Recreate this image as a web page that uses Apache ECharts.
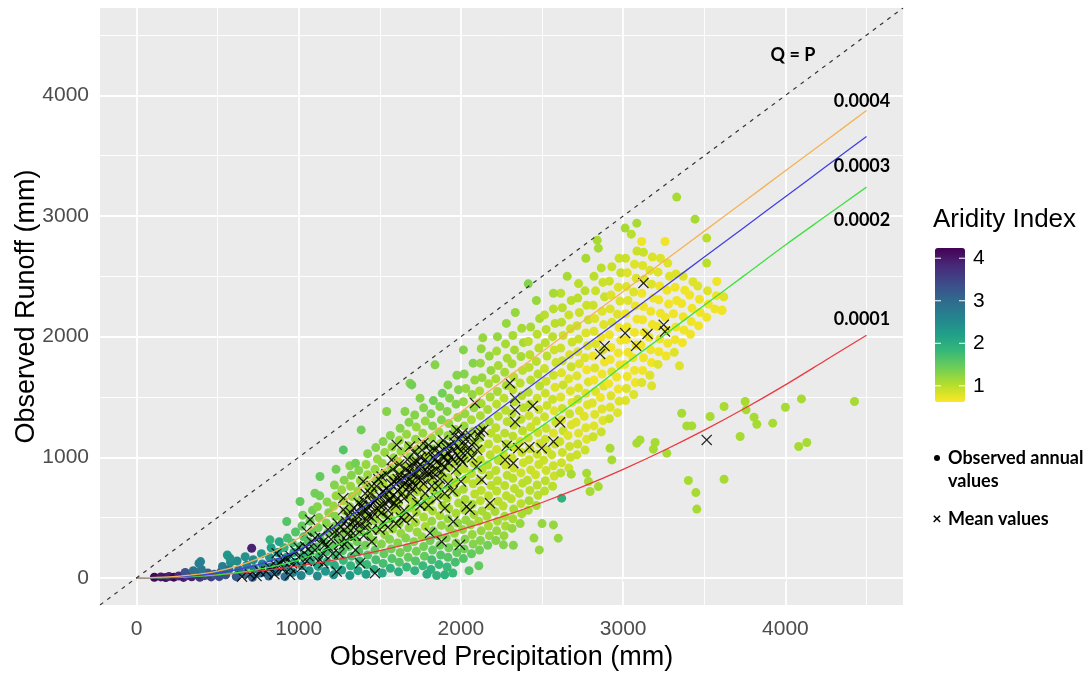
<!DOCTYPE html>
<html><head><meta charset="utf-8">
<script src="https://cdn.jsdelivr.net/npm/echarts@6/dist/echarts.min.js"></script>
<style>html,body{margin:0;padding:0;background:#fff}#c{width:1092px;height:673px}</style>
</head><body><div id="c"></div>
<script>
// ---------- data ----------
const xTicks = [0, 1000, 2000, 3000, 4000];
const yTicks = [0, 1000, 2000, 3000, 4000];
const minorTicks = [500, 1500, 2500, 3500, 4500];
const axisMin = -225, axisMax = 4725;
const legendTicks = [1, 2, 3, 4];
const aiMin = 0.62, aiMax = 4.24;

const curveP = [0,250,500,750,1000,1250,1500,1750,2000,2250,2500,2750,3000,3250,3500,3750,4000,4250,4500];
const curve0001 = [0,6,25,56,100,156,225,306,400,506,625,756,900,1056,1225,1406,1600,1806,2012];
const curve0002 = [0,5,25,70,150,280,430,620,830,1030,1260,1500,1760,2010,2260,2510,2760,3000,3240];
const curve0003 = [0,8,40,110,230,450,680,915,1160,1410,1660,1910,2160,2410,2660,2910,3160,3410,3660];
const curve0004 = [0,12,55,160,330,600,870,1125,1375,1625,1875,2125,2375,2625,2875,3125,3375,3625,3875];
const curveNames = ['0.0001','0.0002','0.0003','0.0004'];

// observed annual values: [P, Q, aridity index]
const annual = [
[110,5,4.2],[150,8,4.0],[180,3,4.1],[200,12,3.9],[230,6,4.2],[260,15,3.8],[290,4,4.0],[310,20,3.6],[340,9,3.9],[370,28,3.4],[390,5,3.7],[420,18,3.5],[440,40,3.1],[460,8,3.6],[480,30,3.2],[300,45,3.3],[350,60,2.9],[400,70,2.8],[395,135,2.6],[385,120,2.7],[710,246,3.9],[510,10,3.4],[520,50,3.0],[530,95,2.7],[550,25,3.3],[570,70,2.9],[580,130,2.5],[560,190,2.3],
[615,10,3.2],[630,70,2.9],[620,140,2.5],[665,35,3.0],[680,105,2.7],[670,175,2.4],
[715,5,3.1],[725,75,2.8],[720,150,2.5],[765,40,3.0],[775,115,2.6],[770,200,2.3],
[815,15,3.0],[825,90,2.7],[820,170,2.4],[830,250,2.2],[865,50,2.8],[875,130,2.5],[870,210,2.3],[880,300,2.1],
[915,10,2.9],[920,90,2.5],[925,170,2.2],[910,250,1.9],[930,330,1.7],[965,45,2.6],[975,130,2.3],[970,210,2.0],[960,290,1.7],[980,380,1.6],
[1015,20,2.6],[1020,100,2.2],[1025,180,1.9],[1010,260,1.7],[1030,340,1.6],[1020,430,1.5],[1025,520,1.4],[1065,60,2.4],[1075,140,2.0],[1070,220,1.7],[1060,300,1.6],[1080,380,1.5],[1070,470,1.4],[1085,560,1.4],
[1115,15,2.5],[1120,95,2.1],[1125,175,1.8],[1110,255,1.6],[1130,335,1.5],[1120,415,1.4],[1125,500,1.3],[1115,590,1.3],[1130,680,1.4],[1165,55,2.3],[1175,135,1.9],[1170,215,1.7],[1160,295,1.5],[1180,375,1.4],[1170,455,1.3],[1185,540,1.3],[1175,630,1.3],
[1215,25,2.4],[1220,105,2.0],[1225,185,1.7],[1210,265,1.5],[1230,345,1.4],[1220,425,1.3],[1225,510,1.3],[1215,595,1.2],[1230,680,1.2],[1220,770,1.3],[1265,65,2.2],[1275,145,1.8],[1270,225,1.6],[1260,305,1.4],[1280,385,1.3],[1270,470,1.3],[1285,555,1.2],[1275,640,1.2],[1265,730,1.2],[1280,810,1.3],
[1315,20,2.3],[1320,100,1.9],[1325,180,1.7],[1310,260,1.5],[1330,340,1.3],[1320,420,1.3],[1325,505,1.2],[1315,590,1.2],[1330,675,1.2],[1320,760,1.2],[1325,850,1.3],[1315,930,1.3],[1365,60,2.1],[1375,140,1.8],[1370,220,1.6],[1360,300,1.4],[1380,385,1.3],[1370,465,1.2],[1385,550,1.2],[1375,635,1.2],[1365,720,1.2],[1380,805,1.2],[1370,890,1.3],
[1415,30,2.2],[1420,110,1.8],[1425,190,1.6],[1410,270,1.4],[1430,350,1.3],[1420,430,1.2],[1425,515,1.2],[1415,600,1.2],[1430,685,1.1],[1420,770,1.2],[1425,855,1.2],[1415,940,1.2],[1425,1030,1.3],[1465,70,2.0],[1475,150,1.7],[1470,230,1.5],[1460,310,1.3],[1480,395,1.2],[1470,475,1.2],[1485,560,1.1],[1475,645,1.1],[1465,730,1.1],[1480,815,1.2],[1470,900,1.2],[1485,985,1.2],[1475,1080,1.3],
[1515,40,2.1],[1520,120,1.7],[1525,200,1.5],[1510,280,1.3],[1530,360,1.2],[1520,440,1.2],[1525,525,1.2],[1515,610,1.1],[1530,695,1.1],[1520,780,1.1],[1525,865,1.2],[1515,950,1.2],[1530,1040,1.2],[1520,1130,1.3],[1565,80,1.9],[1575,160,1.6],[1570,240,1.4],[1560,320,1.3],[1580,405,1.2],[1570,485,1.2],[1585,570,1.1],[1575,655,1.1],[1565,740,1.1],[1580,825,1.1],[1570,910,1.2],[1585,995,1.2],[1575,1085,1.2],[1565,1180,1.3],
[1615,50,2.0],[1620,130,1.6],[1625,210,1.4],[1610,290,1.3],[1630,370,1.2],[1620,450,1.2],[1625,535,1.1],[1615,620,1.1],[1630,705,1.1],[1620,790,1.1],[1625,875,1.1],[1615,960,1.1],[1630,1050,1.2],[1620,1140,1.2],[1625,1240,1.3],[1665,90,1.8],[1675,170,1.5],[1670,250,1.4],[1660,330,1.3],[1680,415,1.2],[1670,495,1.1],[1685,580,1.1],[1675,665,1.1],[1665,750,1.1],[1680,835,1.1],[1670,920,1.1],[1685,1005,1.2],[1675,1095,1.2],[1665,1190,1.2],[1680,1290,1.3],
[1715,60,1.9],[1720,140,1.6],[1725,220,1.4],[1710,300,1.3],[1730,380,1.2],[1720,460,1.1],[1725,545,1.1],[1715,630,1.1],[1730,715,1.1],[1720,800,1.1],[1725,885,1.1],[1715,970,1.1],[1730,1060,1.2],[1720,1150,1.2],[1725,1250,1.2],[1715,1350,1.3],[1765,100,1.8],[1775,180,1.5],[1770,260,1.4],[1760,340,1.2],[1780,425,1.1],[1770,505,1.1],[1785,590,1.1],[1775,675,1.1],[1765,760,1.0],[1780,845,1.1],[1770,930,1.1],[1785,1015,1.1],[1775,1105,1.2],[1765,1200,1.2],[1780,1300,1.2],[1770,1410,1.3],
[1815,70,1.9],[1820,150,1.7],[1825,230,1.5],[1810,310,1.4],[1830,390,1.3],[1820,470,1.2],[1825,555,1.1],[1815,640,1.1],[1830,725,1.1],[1820,810,1.1],[1825,895,1.1],[1815,980,1.2],[1830,1070,1.2],[1820,1160,1.2],[1825,1260,1.3],[1815,1360,1.3],[1830,1470,1.4],[1865,110,1.8],[1875,190,1.6],[1870,270,1.4],[1860,350,1.3],[1880,435,1.2],[1870,515,1.1],[1885,600,1.1],[1875,685,1.1],[1865,770,1.1],[1880,855,1.1],[1870,940,1.1],[1885,1025,1.2],[1875,1115,1.2],[1865,1210,1.2],[1880,1310,1.3],[1870,1420,1.3],[1885,1530,1.4],
[1915,90,1.8],[1920,170,1.6],[1925,250,1.4],[1910,330,1.3],[1930,410,1.2],[1920,490,1.2],[1925,575,1.1],[1915,660,1.1],[1930,745,1.1],[1920,830,1.1],[1925,915,1.1],[1915,1000,1.1],[1930,1090,1.2],[1920,1180,1.2],[1925,1280,1.2],[1915,1380,1.3],[1930,1490,1.3],[1920,1600,1.3],[1965,130,1.7],[1975,210,1.5],[1970,290,1.3],[1960,370,1.2],[1980,455,1.2],[1970,535,1.1],[1985,620,1.1],[1975,705,1.1],[1965,790,1.0],[1980,875,1.1],[1970,960,1.1],[1985,1045,1.1],[1975,1135,1.2],[1965,1230,1.2],[1980,1330,1.2],[1970,1440,1.3],[1985,1560,1.3],[1975,1680,1.3],
[2015,160,1.6],[2020,240,1.4],[2025,320,1.3],[2010,400,1.2],[2030,480,1.2],[2020,565,1.1],[2025,650,1.1],[2015,735,1.1],[2030,820,1.0],[2020,905,1.0],[2025,990,1.1],[2015,1080,1.1],[2030,1170,1.1],[2020,1260,1.2],[2025,1360,1.2],[2015,1460,1.2],[2030,1570,1.2],[2020,1690,1.3],[2065,200,1.5],[2075,280,1.3],[2070,360,1.2],[2060,440,1.2],[2080,525,1.1],[2070,610,1.1],[2085,695,1.0],[2075,780,1.0],[2065,865,1.0],[2080,950,1.0],[2070,1035,1.1],[2085,1125,1.1],[2075,1215,1.1],[2065,1310,1.1],[2080,1410,1.2],[2070,1520,1.2],[2085,1640,1.2],[2075,1780,1.3],
[2115,230,1.4],[2120,310,1.3],[2125,390,1.2],[2110,470,1.1],[2130,555,1.1],[2120,640,1.0],[2125,725,1.0],[2115,810,1.0],[2130,895,1.0],[2120,980,1.0],[2125,1070,1.0],[2115,1160,1.1],[2130,1250,1.1],[2120,1345,1.1],[2125,1445,1.1],[2115,1550,1.1],[2130,1660,1.2],[2120,1780,1.2],[2125,1900,1.2],[2165,270,1.4],[2175,350,1.2],[2170,430,1.1],[2160,510,1.1],[2180,595,1.0],[2170,680,1.0],[2185,765,1.0],[2175,850,1.0],[2165,935,1.0],[2180,1020,1.0],[2170,1110,1.0],[2185,1200,1.0],[2175,1295,1.1],[2165,1395,1.1],[2180,1500,1.1],[2170,1610,1.1],[2185,1720,1.2],[2175,1840,1.2],
[2215,310,1.3],[2220,390,1.2],[2225,470,1.1],[2210,550,1.1],[2230,635,1.0],[2220,720,1.0],[2225,805,1.0],[2215,890,1.0],[2230,975,1.0],[2220,1065,0.9],[2225,1155,1.0],[2215,1245,1.0],[2230,1340,1.0],[2220,1440,1.0],[2225,1545,1.1],[2215,1650,1.1],[2230,1760,1.1],[2220,1880,1.1],[2225,2000,1.2],[2265,350,1.2],[2275,430,1.1],[2270,510,1.1],[2260,595,1.0],[2280,680,1.0],[2270,765,1.0],[2285,850,1.0],[2275,935,0.9],[2265,1020,0.9],[2280,1110,1.0],[2270,1200,1.0],[2285,1295,1.0],[2275,1390,1.0],[2265,1490,1.0],[2280,1595,1.1],[2270,1705,1.1],[2285,1820,1.1],[2275,1940,1.1],
[2315,410,1.2],[2320,490,1.1],[2325,570,1.1],[2310,655,1.0],[2330,740,1.0],[2320,825,1.0],[2325,910,0.9],[2315,995,0.9],[2330,1085,0.9],[2320,1175,1.0],[2325,1265,1.0],[2315,1360,1.0],[2330,1460,1.0],[2320,1560,1.0],[2325,1665,1.0],[2315,1775,1.1],[2330,1890,1.1],[2320,2010,1.1],[2365,450,1.2],[2375,530,1.1],[2370,615,1.0],[2360,700,1.0],[2380,785,1.0],[2370,870,0.9],[2385,955,0.9],[2375,1040,0.9],[2365,1130,0.9],[2380,1220,1.0],[2370,1315,1.0],[2385,1410,1.0],[2375,1510,1.0],[2365,1615,1.0],[2380,1720,1.0],[2370,1835,1.1],[2385,1950,1.1],[2375,2070,1.1],
[2415,560,1.1],[2420,640,1.1],[2425,725,1.0],[2410,810,1.0],[2430,895,0.9],[2420,980,0.9],[2425,1070,0.9],[2415,1160,0.9],[2430,1250,0.9],[2420,1345,0.9],[2425,1440,1.0],[2415,1540,1.0],[2430,1640,1.0],[2420,1745,1.0],[2425,1850,1.0],[2415,1960,1.0],[2430,2080,1.1],[2465,600,1.1],[2475,685,1.0],[2470,770,1.0],[2460,855,0.9],[2480,940,0.9],[2470,1025,0.9],[2485,1115,0.9],[2475,1205,0.9],[2465,1300,0.9],[2480,1395,0.9],[2470,1490,0.9],[2485,1590,1.0],[2475,1690,1.0],[2465,1795,1.0],[2480,1905,1.0],[2470,2020,1.0],[2485,2150,1.1],
[2515,720,1.0],[2520,805,1.0],[2525,890,0.9],[2510,975,0.9],[2530,1060,0.9],[2520,1150,0.9],[2525,1240,0.9],[2515,1335,0.9],[2530,1430,0.9],[2520,1530,0.9],[2525,1630,0.9],[2515,1735,0.9],[2530,1840,1.0],[2520,1950,1.0],[2525,2060,1.0],[2515,2180,1.0],[2565,760,1.0],[2575,845,0.9],[2570,930,0.9],[2560,1020,0.9],[2580,1110,0.9],[2570,1200,0.8],[2585,1290,0.9],[2575,1385,0.8],[2565,1480,0.9],[2580,1580,0.8],[2570,1680,0.9],[2585,1785,0.9],[2575,1890,0.9],[2565,2000,1.0],[2580,2110,1.0],[2570,2230,1.0],
[2615,870,1.0],[2620,955,0.9],[2625,1040,0.9],[2610,1130,0.9],[2630,1220,0.9],[2620,1310,0.8],[2625,1405,0.9],[2615,1500,0.8],[2630,1600,0.9],[2620,1700,0.8],[2625,1800,0.9],[2615,1905,0.9],[2630,2010,0.9],[2620,2120,1.0],[2625,2240,1.0],[2615,2360,1.0],[2665,910,0.9],[2675,1000,0.9],[2670,1090,0.9],[2660,1180,0.8],[2680,1270,0.8],[2670,1360,0.9],[2685,1455,0.8],[2675,1550,0.8],[2665,1650,0.8],[2680,1750,0.9],[2670,1850,0.8],[2685,1955,0.9],[2675,2065,0.9],[2665,2180,0.9],[2680,2300,1.0],
[2715,1020,0.9],[2720,1110,0.9],[2725,1200,0.8],[2710,1290,0.8],[2730,1385,0.8],[2720,1480,0.9],[2725,1575,0.8],[2715,1675,0.8],[2730,1775,0.8],[2720,1875,0.8],[2725,1980,0.9],[2715,2090,0.9],[2730,2200,0.9],[2720,2320,1.0],[2725,2440,1.0],[2765,1060,0.9],[2775,1150,0.8],[2770,1245,0.8],[2760,1340,0.8],[2780,1435,0.8],[2770,1530,0.8],[2785,1625,0.8],[2775,1725,0.7],[2765,1825,0.8],[2780,1925,0.8],[2770,2030,0.8],[2785,2140,0.9],[2775,2260,0.9],[2765,2380,1.0],
[2815,1170,0.9],[2820,1260,0.8],[2825,1355,0.8],[2810,1450,0.8],[2830,1545,0.8],[2820,1640,0.7],[2825,1740,0.8],[2815,1840,0.7],[2830,1940,0.8],[2820,2045,0.8],[2825,2150,0.8],[2815,2260,0.9],[2830,2380,0.9],[2820,2500,1.0],[2865,1210,0.9],[2875,1305,0.8],[2870,1400,0.8],[2860,1495,0.7],[2880,1590,0.8],[2870,1690,0.7],[2885,1790,0.7],[2875,1890,0.8],[2865,1995,0.7],[2880,2100,0.8],[2870,2210,0.8],[2885,2330,0.9],[2875,2450,0.9],[2865,2570,1.0],
[2915,1320,0.9],[2920,1415,0.8],[2925,1510,0.8],[2910,1610,0.7],[2930,1710,0.8],[2920,1810,0.7],[2925,1910,0.7],[2915,2015,0.7],[2930,2120,0.8],[2920,2230,0.8],[2925,2345,0.8],[2915,2460,0.9],[2930,2580,0.9],[2965,1370,0.8],[2975,1465,0.8],[2970,1565,0.7],[2960,1665,0.7],[2980,1765,0.7],[2970,1865,0.7],[2985,1970,0.7],[2975,2075,0.7],[2965,2185,0.8],[2980,2295,0.8],[2970,2410,0.8],[2985,2530,0.9],[2975,2650,0.9],
[3015,1470,0.8],[3020,1570,0.8],[3025,1670,0.7],[3010,1770,0.7],[3030,1870,0.7],[3020,1975,0.7],[3025,2080,0.7],[3015,2190,0.7],[3030,2300,0.8],[3020,2415,0.8],[3025,2530,0.8],[3015,2650,0.9],[3065,1520,0.8],[3075,1620,0.7],[3070,1720,0.7],[3060,1825,0.7],[3080,1930,0.7],[3070,2035,0.7],[3085,2145,0.7],[3075,2255,0.7],[3065,2370,0.8],[3080,2485,0.8],[3070,2600,0.8],[3085,2710,0.9],
[3115,1620,0.8],[3120,1720,0.7],[3125,1825,0.7],[3110,1930,0.7],[3130,2035,0.7],[3120,2140,0.7],[3125,2250,0.7],[3115,2360,0.7],[3130,2475,0.8],[3120,2590,0.8],[3125,2700,0.9],[3165,1680,0.8],[3175,1785,0.7],[3170,1890,0.7],[3160,1995,0.7],[3180,2100,0.7],[3170,2210,0.7],[3185,2320,0.7],[3175,2435,0.8],[3165,2550,0.8],[3180,2660,0.8],
[3215,1770,0.8],[3220,1875,0.7],[3225,1980,0.7],[3210,2085,0.7],[3230,2195,0.7],[3220,2305,0.7],[3225,2420,0.7],[3215,2535,0.8],[3230,2650,0.8],[3265,1840,0.7],[3275,1945,0.7],[3270,2050,0.7],[3260,2160,0.7],[3280,2270,0.7],[3270,2385,0.7],[3285,2500,0.8],[3275,2610,0.8],
[3315,1870,0.8],[3320,1975,0.7],[3325,2080,0.7],[3310,2190,0.7],[3330,2300,0.7],[3320,2410,0.7],[3325,2520,0.8],[3365,1950,0.7],[3375,2055,0.7],[3370,2165,0.7],[3360,2275,0.7],[3380,2385,0.7],[3370,2500,0.8],
[3415,2020,0.7],[3420,2125,0.7],[3425,2235,0.7],[3410,2345,0.7],[3430,2455,0.8],[3465,2090,0.7],[3475,2200,0.7],[3470,2310,0.7],[3460,2420,0.8],[3515,2160,0.7],[3525,2270,0.7],[3520,2380,0.8],[3565,2230,0.7],[3575,2340,0.7],[3610,2220,0.7],[3620,2330,0.8],
[576,163,2.4],[823,315,1.9],[926,467,1.6],[1008,633,1.5],[1100,702,1.4],[1131,840,1.5],[1230,900,1.4],[1350,950,1.4],[1275,1061,1.6],[1385,1227,1.4],[1542,1379,1.3],[1686,1614,1.3],
[1655,1379,1.3],[1697,1600,1.4],[1748,1490,1.3],[1840,1766,1.3],[2015,1890,1.3],[2135,1990,1.2],[2280,2110,1.2],[2335,2200,1.2],[2415,2438,1.3],[2465,2300,1.2],[2570,2360,1.1],[2655,2500,1.1],[2770,2650,1.1],[2840,2800,1.1],[2847,2734,1.1],[3012,2900,1.1],[3084,2941,1.1],[3050,2850,1.0],[3114,2789,0.7],[3258,2789,0.7],[3330,3157,1.1],[3443,2974,1.1],[3515,2817,1.0],[3515,2610,1.0],[3577,2457,0.7],[3608,2217,0.7],
[1790,30,2.0],[1850,20,1.9],[1900,25,1.9],[1950,40,1.8],[2050,60,1.6],[2110,100,1.5],[2262,274,1.3],[2323,270,1.3],[2450,330,1.2],[2500,450,1.2],[2600,329,1.2],[2483,232,1.2],[2570,439,1.2],
[2621,661,1.9],[2680,860,1.1],[2775,868,1.1],[2786,799,1.1],[2796,716,1.1],[2847,757,1.1],[2919,1075,1.1],[2930,978,1.1],[3084,1117,1.1],[3104,1144,1.1],[3176,1592,0.8],[3186,1067,1.1],[3197,1122,1.1],[3269,1034,1.1],[3347,1758,0.8],[3361,1365,1.1],[3392,1260,1.1],[3402,807,1.1],[3423,1260,1.1],[3448,707,1.1],[3454,570,1.1],[3536,1338,1.1],[3622,1421,1.1],[3622,818,1.1],
[3721,1172,1.1],[3752,1462,1.1],[3758,1393,1.1],[3807,1332,1.1],[3824,1274,1.1],[3922,1283,1.1],[4000,1415,1.1],[4082,1089,1.1],[4099,1484,1.1],[4132,1122,1.1],[4426,1462,1.1]
];

// mean values: [P, Q]
const means = [
[650,10],[700,30],[740,15],[760,55],[800,52],[820,90],[850,30],[860,100],[864,205],[880,120],[900,70],[900,150],[920,160],[946,25],[950,80],[950,180],[960,120],[980,220],[1000,170],[1000,250],[1020,90],[1040,260],[1049,384],[1050,140],[1060,180],[1060,240],[1070,481],[1080,300],[1100,230],[1100,330],[1120,140],[1130,340],[1150,200],[1150,300],[1152,122],[1160,270],[1180,400],[1180,260],[1200,320],[1210,200],[1220,380],[1234,52],[1240,450],[1250,370],[1250,280],[1250,200],[1260,420],[1275,661],[1275,564],[1280,280],[1290,470],[1300,420],[1300,360],[1300,300],[1310,500],[1320,350],[1320,540],[1330,460],[1340,580],[1340,420],[1350,230],[1350,350],[1360,450],[1360,520],[1370,620],[1378,122],[1380,520],[1380,440],[1390,600],[1398,799],[1400,640],[1400,560],[1400,350],[1410,420],[1410,700],[1420,560],[1420,480],[1430,520],[1440,700],[1440,600],[1450,500],[1450,400],[1450,760],[1450,300],[1460,620],[1460,540],[1470,39],[1470,640],[1480,760],[1480,660],[1490,560],[1490,820],[1500,680],[1500,600],[1500,400],[1510,540],[1511,840],[1520,460],[1520,720],[1530,620],[1530,700],[1540,740],[1540,860],[1550,560],[1550,500],[1550,640],[1550,420],[1560,640],[1560,720],[1570,780],[1573,978],[1580,680],[1580,900],[1590,800],[1590,620],[1600,600],[1600,780],[1600,450],[1604,1103],[1610,720],[1610,820],[1610,660],[1620,860],[1620,940],[1630,500],[1630,820],[1640,760],[1640,700],[1650,660],[1650,780],[1650,560],[1650,480],[1660,900],[1660,840],[1670,800],[1670,980],[1680,880],[1680,760],[1686,1089],[1690,700],[1690,920],[1700,860],[1700,740],[1700,800],[1700,500],[1710,960],[1710,1040],[1720,760],[1720,860],[1730,620],[1730,960],[1740,900],[1740,820],[1750,1000],[1750,940],[1750,600],[1760,820],[1760,1060],[1768,1117],[1770,880],[1770,780],[1780,700],[1780,980],[1790,950],[1790,880],[1800,860],[1800,1100],[1800,600],[1809,371],[1810,1050],[1810,940],[1820,760],[1820,880],[1830,1000],[1830,840],[1840,980],[1840,1060],[1850,900],[1850,960],[1850,660],[1860,1100],[1860,760],[1870,820],[1870,1040],[1880,940],[1880,880],[1881,301],[1890,1000],[1890,1140],[1900,920],[1900,1000],[1900,700],[1902,578],[1910,1080],[1920,780],[1920,1040],[1920,960],[1930,1100],[1940,1000],[1950,1060],[1950,980],[1950,720],[1953,467],[1960,1120],[1960,1180],[1970,900],[1974,1227],[1980,1080],[1990,1000],[1990,1160],[1994,274],[2000,1050],[2000,980],[2000,800],[2010,960],[2010,1200],[2020,1100],[2030,1150],[2035,591],[2040,1040],[2050,1080],[2056,564],[2060,1180],[2070,1000],[2080,1120],[2087,1449],[2097,923],[2100,1060],[2110,1180],[2118,1213],[2128,813],[2138,1227],[2179,619],[2272,978],[2282,1095],[2302,1614],[2323,951],[2334,1490],[2334,1393],[2334,1293],[2354,1075],[2422,1084],[2443,1425],[2498,1075],[2570,1130],[2611,1290],[2858,1857],[2885,1922],[3012,2030],[3080,1924],[3125,2444],[3150,2023],[3250,2098],[3258,2042],[3515,1144]
];

// ---------- chart ----------
const viridisRev = ['#fde725','#b5de2b','#6ece58','#35b779','#1f9e89','#26828e','#31688e','#3e4989','#482878','#440154'];
const curveColors = ['#ea3a40','#3fe03f','#4141e2','#f5b356'];
const curveSets = [curve0001, curve0002, curve0003, curve0004];

const gridMarks = [];
xTicks.forEach(v => gridMarks.push({xAxis: v, lineStyle: {width: 1.8}}));
minorTicks.forEach(v => gridMarks.push({xAxis: v, lineStyle: {width: 0.9}}));
yTicks.forEach(v => gridMarks.push({yAxis: v, lineStyle: {width: 1.8}}));
minorTicks.forEach(v => gridMarks.push({yAxis: v, lineStyle: {width: 0.9}}));

const G = {left: 100, right: 189, top: 8, bottom: 68};
const barTop = 248, barH = 154, barLeft = 935, barW = 30;

const graphics = [];
graphics.push({type:'text', left: 933, top: 207, z:100, style:{text:'Aridity Index', font:'26px "Liberation Sans"', fill:'#000'}});
legendTicks.forEach(v => {
  const y = barTop + barH - (v - aiMin) / (aiMax - aiMin) * barH;
  graphics.push({type:'text', x: 973, y: y, z:100, style:{text:String(v), font:'21px "Liberation Sans"', fill:'#000', textVerticalAlign:'middle'}});
  graphics.push({type:'line', z:100, shape:{x1:barLeft, y1:y, x2:barLeft+6, y2:y}, style:{stroke:'#fff', lineWidth:1}});
  graphics.push({type:'line', z:100, shape:{x1:barLeft+barW-6, y1:y, x2:barLeft+barW, y2:y}, style:{stroke:'#fff', lineWidth:1}});
});
const boldFont = 'bold 18px Lato';
graphics.push({type:'circle', z:100, shape:{cx:937, cy:458, r:3}, style:{fill:'#000'}});
graphics.push({type:'text', x: 948, y: 458, z:100, style:{text:'Observed annual', font:boldFont, fill:'#000', textVerticalAlign:'middle'}});
graphics.push({type:'text', x: 948, y: 481, z:100, style:{text:'values', font:boldFont, fill:'#000', textVerticalAlign:'middle'}});
graphics.push({type:'text', x: 937, y: 519, z:100, style:{text:'×', font:'bold 16px Lato', fill:'#000', textAlign:'center', textVerticalAlign:'middle'}});
graphics.push({type:'text', x: 948, y: 519, z:100, style:{text:'Mean values', font:boldFont, fill:'#000', textVerticalAlign:'middle'}});
graphics.push({type:'text', x: 793, y: 55, z:100, style:{text:'Q = P', font:boldFont, fill:'#000', textAlign:'center', textVerticalAlign:'middle'}});
const labelY = [319, 220, 166, 101];
curveNames.forEach((n, i) => {
  graphics.push({type:'text', x: 862, y: labelY[i], z:100, style:{text:n, font:boldFont, fill:'#000', textAlign:'center', textVerticalAlign:'middle'}});
});

const series = [
  {type:'line', data:[], silent:true, z:1,
   markLine:{silent:true, z:1, symbol:['none','none'], label:{show:false}, animation:false,
     lineStyle:{color:'#ffffff', type:'solid'}, emphasis:{disabled:true}, data: gridMarks}},
  {type:'scatter', name:'annual', data: annual, symbolSize: 9, z:10, itemStyle:{opacity:1}},
  {type:'scatter', name:'means', data: means, z:11,
   symbol:'path://M0,0.8L0.8,0L5,4.2L9.2,0L10,0.8L5.8,5L10,9.2L9.2,10L5,5.8L0.8,10L0,9.2L4.2,5Z',
   symbolSize: 11, itemStyle:{color:'#000', opacity:0.85}}
];
curveSets.forEach((c, i) => {
  series.push({type:'line', name:curveNames[i], data: curveP.map((p, j) => [p, c[j]]), showSymbol:false, smooth:0.3, z:12,
    lineStyle:{color:curveColors[i], width:1.3}});
});
series.push({type:'line', name:'Q = P', data:[[axisMin, axisMin],[axisMax, axisMax]], showSymbol:false, z:13,
  lineStyle:{color:'#333', width:1.2, type:[4,5]}});

const chart = echarts.init(document.getElementById('c'), null, {renderer:'canvas'});
chart.setOption({
  animation:false,
  backgroundColor:'#ffffff',
  grid:{left:G.left, right:G.right, top:G.top, bottom:G.bottom, show:true, backgroundColor:'#EBEBEB', borderWidth:0, outerBoundsMode:'none', containLabel:false},
  xAxis:{type:'value', min:axisMin, max:axisMax,
    name:'Observed Precipitation (mm)', nameLocation:'middle', nameGap:39, nameMoveOverlap:false,
    nameTextStyle:{fontFamily:'Liberation Sans', fontSize:27, color:'#000', verticalAlign:'top'},
    axisLine:{show:false}, splitLine:{show:false},
    axisTick:{show:true, customValues:xTicks, length:4, lineStyle:{color:'#333', width:1}},
    axisLabel:{customValues:xTicks, formatter: v => String(v), fontFamily:'Liberation Sans', fontSize:21, color:'#4d4d4d', margin:14}},
  yAxis:{type:'value', min:axisMin, max:axisMax,
    name:'Observed Runoff (mm)', nameLocation:'middle', nameGap:60, nameMoveOverlap:false,
    nameTextStyle:{fontFamily:'Liberation Sans', fontSize:27, color:'#000'},
    axisLine:{show:false}, splitLine:{show:false},
    axisTick:{show:true, customValues:yTicks, length:4, lineStyle:{color:'#333', width:1}},
    axisLabel:{customValues:yTicks, formatter: v => String(v), fontFamily:'Liberation Sans', fontSize:21, color:'#4d4d4d', margin:11}},
  visualMap:{type:'continuous', min:aiMin, max:aiMax, dimension:2, seriesIndex:1, calculable:false,
    itemWidth:barW, itemHeight:barH, left:barLeft, top:barTop, padding:0, text:null,
    inRange:{color:viridisRev}},
  graphic: graphics,
  series: series
});
</script></body></html>
